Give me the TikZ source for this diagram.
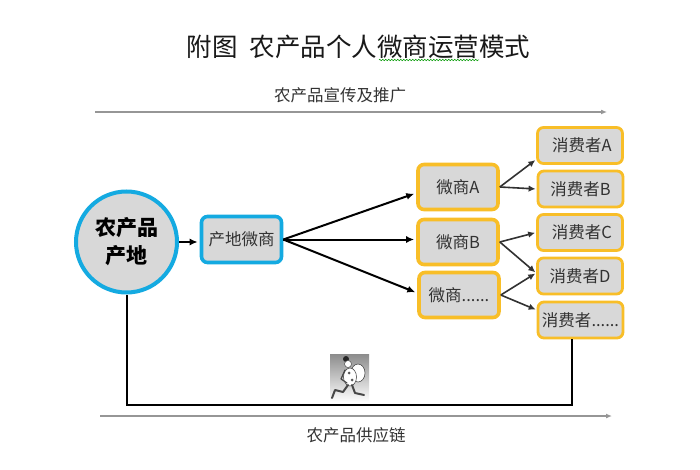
\documentclass[tikz,border=0pt]{standalone}
\usepackage{fontspec}
\setmainfont{Noto Sans CJK SC}
\newfontfamily\titlefont{Noto Sans CJK SC}
\usetikzlibrary{arrows.meta,decorations.pathmorphing}
\definecolor{skyline}{RGB}{20,170,225}
\definecolor{amberline}{RGB}{248,190,40}
\definecolor{softgray}{RGB}{216,216,216}
\definecolor{darkgray}{RGB}{50,50,50}
\definecolor{axisgray}{RGB}{150,150,150}
\tikzset{
  box/.style={
    rounded corners=6pt,
    fill=softgray,
    text=darkgray,
    align=center,
    inner sep=0pt,
    font=\fontsize{16.5}{18}\selectfont
  },
  originbox/.style={box, draw=skyline, line width=3.6pt, minimum width=80pt, minimum height=46pt},
  sellerbox/.style={box, draw=amberline, line width=3.6pt, minimum width=80pt, minimum height=45pt},
  buyerbox/.style={box, draw=amberline, line width=2.8pt, minimum width=85pt, minimum height=36pt},
  origincircle/.style={circle, fill=softgray, draw=skyline, line width=4pt, minimum size=101pt, inner sep=0pt,
    align=center, font=\fontsize{21}{28}\selectfont\bfseries},
  caption/.style={inner sep=0pt, text=darkgray, font=\fontsize{16.5}{18}\selectfont},
  arrow/.style={-{Latex[length=8pt,width=7pt]}, line width=2pt, draw=black, shorten >=2pt},
  thinarrow/.style={-{Latex[length=7pt,width=6.5pt]}, line width=1.6pt, draw=darkgray, shorten >=1pt},
  axis/.style={-{Latex[length=6pt,width=5pt]}, line width=1.6pt, draw=axisgray},
  courier/.style={black!72, line width=2pt, line cap=round, line join=round}
}

\begin{document}
\begin{tikzpicture}[x=1pt, y=-1pt]
    \useasboundingbox (0,0) rectangle (700,470);
    \fill[white] (0,0) rectangle (700,470);

    \node[inner sep=0pt, font=\titlefont\fontsize{25.5}{28}\selectfont, text=black!90] (title) at (358.5,47) {附图\hspace{12pt}农产品个人微商运营模式};
    \draw[green!60!black, line width=0.5pt, decorate, decoration={zigzag, segment length=3pt, amplitude=0.8pt}] (379,60) -- (479,60);

    \node[caption] (promo) at (340,95) {农产品宣传及推广};
    \coordinate (promoL) at (95,112);
    \coordinate (promoR) at (607,112);
    \draw[axis] (promoL) -- (promoR);

    \node[origincircle] (origin) at (126.5,242) {农产品\\产地};
    \node[originbox] (local) at (241.5,239.5) {产地微商};

    \node[sellerbox] (sellerA) at (458,187) {微商A};
    \node[sellerbox] (sellerB) at (458,242) {微商B};
    \node[sellerbox] (sellerC) at (459,295) {微商......};

    \node[buyerbox] (buyerA) at (580,145.5) {\hspace{4pt}消费者A};
    \node[buyerbox] (buyerB) at (580.5,189) {消费者B};
    \node[buyerbox] (buyerC) at (580,232.5) {\hspace{4pt}消费者C};
    \node[buyerbox] (buyerD) at (580,276) {消费者D};
    \node[buyerbox] (buyerE) at (580.5,320) {消费者......};

    \draw[arrow] (origin.east |- origin) -- (local.west |- origin);
    \draw[arrow] (local.east) -- ([yshift=-6pt]sellerA.west);
    \draw[arrow] (local.east) -- ([yshift=2.5pt]sellerB.west);
    \draw[arrow] (local.east) -- ([yshift=2pt]sellerC.west);

    \draw[thinarrow] (sellerA.east) -- ([yshift=-14pt]buyerA.west);
    \draw[thinarrow] (sellerA.east) -- (buyerB.west);
    \draw[thinarrow] (sellerB.east) -- (buyerC.west);
    \draw[thinarrow] (sellerB.east) -- ([yshift=3pt]buyerD.west);
    \draw[thinarrow] (sellerC.east) -- ([yshift=3pt]buyerD.west);
    \draw[thinarrow] (sellerC.east) -- ([yshift=10pt]buyerE.west);

    \coordinate (turn) at (300,405);
    \draw[line width=2pt, line join=miter] (origin.south) |- (turn) -| ([xshift=-9pt]buyerE.south);

    % courier picture
    \node[minimum width=39pt, minimum height=48pt, inner sep=0pt, top color=black!45, bottom color=white] (runner) at (349.5,378) {};
    \fill[white, draw=black!70, line width=0.6pt] (358,373) ellipse (7pt and 9pt);
    \fill[white, draw=black!70, line width=0.6pt] (350,377) ellipse (6.5pt and 9pt);
    \fill[black!85] (346,359) circle (3pt);
    \fill[white, draw=black!70, line width=0.5pt] (348,364) circle (3.5pt);
    \fill[black!65] (349,373) circle (1.5pt) (352,380) circle (1.5pt);
    \draw[courier] (348,385) -- (343,392) -- (335,390) -- (332,398);
    \draw[courier] (352,385) -- (355,393) -- (364,395);
    \draw[courier, line width=1.2pt] (345,370) -- (341,379) -- (347,383);

    \node[caption] (supply) at (356,435) {农产品供应链};
    \coordinate (supplyL) at (100,416);
    \coordinate (supplyR) at (612,416);
    \draw[axis] (supplyL) -- (supplyR);
  \end{tikzpicture}
\end{document}
